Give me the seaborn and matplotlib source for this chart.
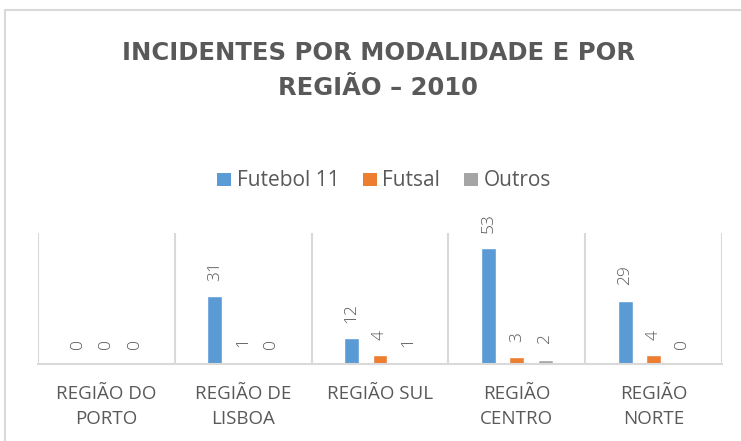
import matplotlib
matplotlib.use("Agg")
import matplotlib.pyplot as plt
import seaborn as sns
import pandas as pd
from matplotlib.patches import Patch
from matplotlib.lines import Line2D

# dados
regioes = ["REGIÃO DO\nPORTO", "REGIÃO DE\nLISBOA", "REGIÃO SUL", "REGIÃO\nCENTRO", "REGIÃO\nNORTE"]
modalidades = ["Futebol 11", "Futsal", "Outros"]
futebol_11 = [0, 31, 12, 53, 29]
futsal = [0, 1, 4, 3, 4]
outros = [0, 0, 1, 2, 0]
cores = ["#5B9BD5", "#ED7D31", "#A5A5A5"]
titulo = "INCIDENTES POR MODALIDADE E POR\nREGIÃO – 2010"

texto = "#595959"
linha = "#D9D9D9"

sns.set_theme(style="white")
plt.rcParams["font.family"] = ["Open Sans", "DejaVu Sans"]

df = pd.DataFrame({
    "regiao": regioes * 3,
    "modalidade": [m for m in modalidades for _ in regioes],
    "n": futebol_11 + futsal + outros,
})

fig = plt.figure(figsize=(7.41, 4.41), dpi=100)
ax = fig.add_axes([38 / 741, 1 - 364 / 441, (722 - 38) / 741, (364 - 233) / 441])

sns.barplot(data=df, x="regiao", y="n", hue="modalidade", order=regioes,
            hue_order=modalidades, palette=cores, width=0.62, gap=0.47,
            saturation=1, ax=ax, legend=False, errorbar=None)

for cont in ax.containers:
    ax.bar_label(cont, fmt="%d", rotation=90, padding=11, color=texto,
                 fontsize=12.5, fontweight="light")

ax.set_ylim(0, 60)
ax.set_xlim(-0.5, len(regioes) - 0.5)
ax.set_yticks([])
ax.set_xlabel("")
ax.set_ylabel("")
for s in ["top", "right", "left"]:
    ax.spines[s].set_visible(False)
ax.spines["bottom"].set_color(linha)
ax.spines["bottom"].set_linewidth(1.5)
for b in range(len(regioes) + 1):
    ax.axvline(b - 0.5, color=linha, linewidth=1.5, zorder=0)

ax.tick_params(axis="x", length=0, pad=15)
for lab in ax.get_xticklabels():
    lab.set_color(texto)
    lab.set_fontsize(13.5)
    lab.set_linespacing(1.52)

fig.text(378 / 741, 1 - 70.5 / 441, titulo, ha="center", va="center",
         fontsize=17.5, fontweight="bold", color=texto, linespacing=1.58,
         family=["DejaVu Sans"])

handles = [Patch(facecolor=c, edgecolor="none") for c in cores]
fig.legend(handles, modalidades, loc="center", bbox_to_anchor=(384 / 741, 1 - 181 / 441),
           ncol=3, frameon=False, handlelength=0.67, handleheight=0.6,
           handletextpad=0.25, columnspacing=1.15, prop={"size": 15},
           labelcolor=texto)

# moldura do gráfico
fig.add_artist(Line2D([5 / 741, 1], [1 - 10 / 441, 1 - 10 / 441], color=linha,
                      linewidth=1.5, transform=fig.transFigure))
fig.add_artist(Line2D([5 / 741, 5 / 741], [0, 1 - 10 / 441], color=linha,
                      linewidth=1.5, transform=fig.transFigure))

fig.savefig("out.png", dpi=100)
